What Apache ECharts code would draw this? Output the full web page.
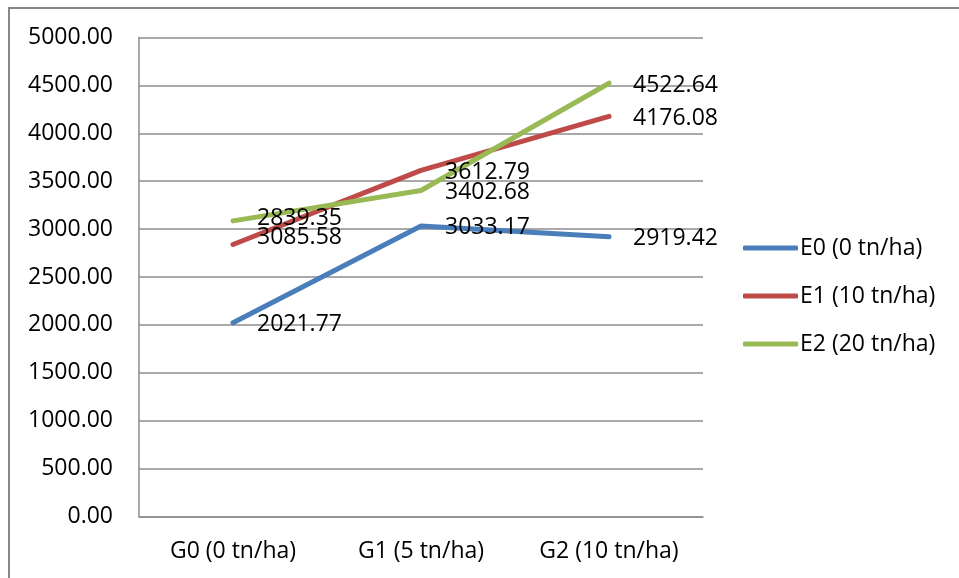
<!DOCTYPE html>
<html>
<head>
<meta charset="utf-8">
<script src="https://cdn.jsdelivr.net/npm/echarts@6/dist/echarts.min.js"></script>
<style>
  html, body { margin: 0; padding: 0; background: #ffffff; }
  #chart { width: 959px; height: 578px; }
</style>
</head>
<body>
<div id="chart"></div>
<script>
// Categories (fertiliser level G) and yield series for each E level
const categories = ['G0 (0 tn/ha)', 'G1 (5 tn/ha)', 'G2 (10 tn/ha)'];
const seriesNames = ['E0 (0 tn/ha)', 'E1 (10 tn/ha)', 'E2 (20 tn/ha)'];
const e0Values = [2021.77, 3033.17, 2919.42];
const e1Values = [2839.35, 3612.79, 4176.08];
const e2Values = [3085.58, 3402.68, 4522.64];
const yTicks = { min: 0, max: 5000, step: 500 };

const FONT = 'Open Sans';
const FS = 23;
const colors = ['#4a7ebb', '#be4b48', '#98b954'];

// Per-point label nudges (the two G0 labels of E1/E2 sit swapped around each other)
const labelShift = {
  1: { 0: [0, -26] },
  2: { 0: [0, 17] }
};

function buildData(values, sIdx) {
  return values.map((v, i) => {
    const shift = (labelShift[sIdx] || {})[i];
    const item = { value: v };
    item.label = { offset: shift || [0, 2] };
    return item;
  });
}

const valueSets = [e0Values, e1Values, e2Values];

const chart = echarts.init(document.getElementById('chart'), null, { renderer: 'canvas' });

chart.setOption({
  backgroundColor: '#ffffff',
  animation: false,
  textStyle: { fontFamily: FONT },
  grid: { left: 139, right: 256, top: 37.5, bottom: 61.5, containLabel: false },
  xAxis: {
    type: 'category',
    data: categories,
    boundaryGap: true,
    axisLine: { show: true, lineStyle: { color: '#8c8c8c', width: 1.5 } },
    axisTick: { show: false },
    axisLabel: { fontFamily: FONT, fontSize: FS, color: '#000', margin: 23 },
    splitLine: { show: false }
  },
  yAxis: {
    type: 'value',
    min: yTicks.min,
    max: yTicks.max,
    interval: yTicks.step,
    axisLine: { show: true, lineStyle: { color: '#8c8c8c', width: 1.5 } },
    axisTick: { show: false },
    axisLabel: {
      fontFamily: FONT, fontSize: FS, color: '#000', margin: 26,
      formatter: v => v.toFixed(2)
    },
    splitLine: { show: true, lineStyle: { color: '#8c8c8c', width: 1.5 } }
  },
  legend: {
    orient: 'vertical',
    left: 743,
    top: 236,
    padding: 0,
    itemWidth: 55,
    itemHeight: 5,
    itemGap: 24,
    icon: 'roundRect',
    data: seriesNames,
    textStyle: { fontFamily: FONT, fontSize: FS, color: '#000', lineHeight: 24, padding: [0, 0, 0, -3] }
  },
  series: seriesNames.map((name, s) => ({
    name: name,
    type: 'line',
    data: buildData(valueSets[s], s),
    color: colors[s],
    symbol: 'circle',
    symbolSize: 0,
    showSymbol: true,
    lineStyle: { width: 5, color: colors[s], cap: 'round', join: 'round' },
    itemStyle: { color: colors[s] },
    label: {
      show: true,
      position: 'right',
      distance: 24,
      fontFamily: FONT,
      fontSize: FS,
      color: '#000',
      formatter: p => p.value.toFixed(2)
    },
    emphasis: { disabled: true }
  })),
  graphic: [{
    type: 'polyline',
    shape: { points: [[9, 578], [9, 8], [959, 8]] },
    style: { stroke: '#878787', lineWidth: 2, fill: null },
    silent: true
  }]
});
</script>
</body>
</html>
